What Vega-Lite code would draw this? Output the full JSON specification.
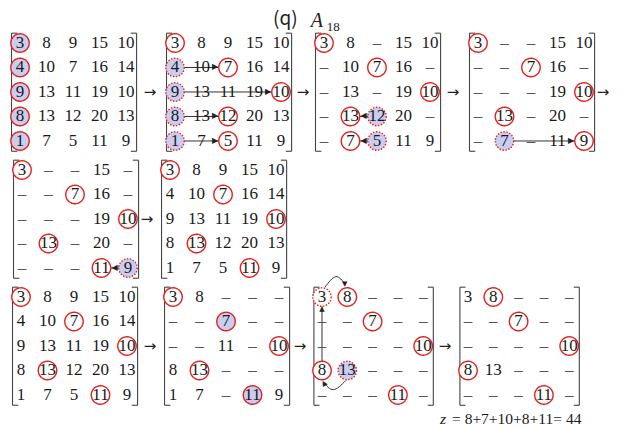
{
"$schema":"https://vega.github.io/schema/vega-lite/v6.json",
"padding":0,
"background":"white",
"bounds":"flush",
"spacing":0,
"columns":4,
"config":{"view":{"stroke":null},"concat":{"spacing":0}},
"datasets":{
"cells":[
{"m":1,"r":1,"c":1,"v":"3","k":"of"},{"m":1,"r":1,"c":2,"v":"8","k":""},{"m":1,"r":1,"c":3,"v":"9","k":""},{"m":1,"r":1,"c":4,"v":"15","k":""},{"m":1,"r":1,"c":5,"v":"10","k":""},
{"m":1,"r":2,"c":1,"v":"4","k":"of"},{"m":1,"r":2,"c":2,"v":"10","k":""},{"m":1,"r":2,"c":3,"v":"7","k":""},{"m":1,"r":2,"c":4,"v":"16","k":""},{"m":1,"r":2,"c":5,"v":"14","k":""},
{"m":1,"r":3,"c":1,"v":"9","k":"of"},{"m":1,"r":3,"c":2,"v":"13","k":""},{"m":1,"r":3,"c":3,"v":"11","k":""},{"m":1,"r":3,"c":4,"v":"19","k":""},{"m":1,"r":3,"c":5,"v":"10","k":""},
{"m":1,"r":4,"c":1,"v":"8","k":"of"},{"m":1,"r":4,"c":2,"v":"13","k":""},{"m":1,"r":4,"c":3,"v":"12","k":""},{"m":1,"r":4,"c":4,"v":"20","k":""},{"m":1,"r":4,"c":5,"v":"13","k":""},
{"m":1,"r":5,"c":1,"v":"1","k":"of"},{"m":1,"r":5,"c":2,"v":"7","k":""},{"m":1,"r":5,"c":3,"v":"5","k":""},{"m":1,"r":5,"c":4,"v":"11","k":""},{"m":1,"r":5,"c":5,"v":"9","k":""},

{"m":2,"r":1,"c":1,"v":"3","k":"o"},{"m":2,"r":1,"c":2,"v":"8","k":""},{"m":2,"r":1,"c":3,"v":"9","k":""},{"m":2,"r":1,"c":4,"v":"15","k":""},{"m":2,"r":1,"c":5,"v":"10","k":""},
{"m":2,"r":2,"c":1,"v":"4","k":"d"},{"m":2,"r":2,"c":2,"v":"10","k":""},{"m":2,"r":2,"c":3,"v":"7","k":"o"},{"m":2,"r":2,"c":4,"v":"16","k":""},{"m":2,"r":2,"c":5,"v":"14","k":""},
{"m":2,"r":3,"c":1,"v":"9","k":"d"},{"m":2,"r":3,"c":2,"v":"13","k":""},{"m":2,"r":3,"c":3,"v":"11","k":""},{"m":2,"r":3,"c":4,"v":"19","k":""},{"m":2,"r":3,"c":5,"v":"10","k":"o"},
{"m":2,"r":4,"c":1,"v":"8","k":"d"},{"m":2,"r":4,"c":2,"v":"13","k":""},{"m":2,"r":4,"c":3,"v":"12","k":"o"},{"m":2,"r":4,"c":4,"v":"20","k":""},{"m":2,"r":4,"c":5,"v":"13","k":""},
{"m":2,"r":5,"c":1,"v":"1","k":"d"},{"m":2,"r":5,"c":2,"v":"7","k":""},{"m":2,"r":5,"c":3,"v":"5","k":"o"},{"m":2,"r":5,"c":4,"v":"11","k":""},{"m":2,"r":5,"c":5,"v":"9","k":""},

{"m":3,"r":1,"c":1,"v":"3","k":"o"},{"m":3,"r":1,"c":2,"v":"8","k":""},{"m":3,"r":1,"c":3,"v":"–","k":""},{"m":3,"r":1,"c":4,"v":"15","k":""},{"m":3,"r":1,"c":5,"v":"10","k":""},
{"m":3,"r":2,"c":1,"v":"–","k":""},{"m":3,"r":2,"c":2,"v":"10","k":""},{"m":3,"r":2,"c":3,"v":"7","k":"o"},{"m":3,"r":2,"c":4,"v":"16","k":""},{"m":3,"r":2,"c":5,"v":"–","k":""},
{"m":3,"r":3,"c":1,"v":"–","k":""},{"m":3,"r":3,"c":2,"v":"13","k":""},{"m":3,"r":3,"c":3,"v":"–","k":""},{"m":3,"r":3,"c":4,"v":"19","k":""},{"m":3,"r":3,"c":5,"v":"10","k":"o"},
{"m":3,"r":4,"c":1,"v":"–","k":""},{"m":3,"r":4,"c":2,"v":"13","k":"o"},{"m":3,"r":4,"c":3,"v":"12","k":"d"},{"m":3,"r":4,"c":4,"v":"20","k":""},{"m":3,"r":4,"c":5,"v":"–","k":""},
{"m":3,"r":5,"c":1,"v":"–","k":""},{"m":3,"r":5,"c":2,"v":"7","k":"o"},{"m":3,"r":5,"c":3,"v":"5","k":"d"},{"m":3,"r":5,"c":4,"v":"11","k":""},{"m":3,"r":5,"c":5,"v":"9","k":""},

{"m":4,"r":1,"c":1,"v":"3","k":"o"},{"m":4,"r":1,"c":2,"v":"–","k":""},{"m":4,"r":1,"c":3,"v":"–","k":""},{"m":4,"r":1,"c":4,"v":"15","k":""},{"m":4,"r":1,"c":5,"v":"10","k":""},
{"m":4,"r":2,"c":1,"v":"–","k":""},{"m":4,"r":2,"c":2,"v":"–","k":""},{"m":4,"r":2,"c":3,"v":"7","k":"o"},{"m":4,"r":2,"c":4,"v":"16","k":""},{"m":4,"r":2,"c":5,"v":"–","k":""},
{"m":4,"r":3,"c":1,"v":"–","k":""},{"m":4,"r":3,"c":2,"v":"–","k":""},{"m":4,"r":3,"c":3,"v":"–","k":""},{"m":4,"r":3,"c":4,"v":"19","k":""},{"m":4,"r":3,"c":5,"v":"10","k":"o"},
{"m":4,"r":4,"c":1,"v":"–","k":""},{"m":4,"r":4,"c":2,"v":"13","k":"o"},{"m":4,"r":4,"c":3,"v":"–","k":""},{"m":4,"r":4,"c":4,"v":"20","k":""},{"m":4,"r":4,"c":5,"v":"–","k":""},
{"m":4,"r":5,"c":1,"v":"–","k":""},{"m":4,"r":5,"c":2,"v":"7","k":"d"},{"m":4,"r":5,"c":3,"v":"–","k":""},{"m":4,"r":5,"c":4,"v":"11","k":""},{"m":4,"r":5,"c":5,"v":"9","k":"o"},

{"m":5,"r":1,"c":1,"v":"3","k":"o"},{"m":5,"r":1,"c":2,"v":"–","k":""},{"m":5,"r":1,"c":3,"v":"–","k":""},{"m":5,"r":1,"c":4,"v":"15","k":""},{"m":5,"r":1,"c":5,"v":"–","k":""},
{"m":5,"r":2,"c":1,"v":"–","k":""},{"m":5,"r":2,"c":2,"v":"–","k":""},{"m":5,"r":2,"c":3,"v":"7","k":"o"},{"m":5,"r":2,"c":4,"v":"16","k":""},{"m":5,"r":2,"c":5,"v":"–","k":""},
{"m":5,"r":3,"c":1,"v":"–","k":""},{"m":5,"r":3,"c":2,"v":"–","k":""},{"m":5,"r":3,"c":3,"v":"–","k":""},{"m":5,"r":3,"c":4,"v":"19","k":""},{"m":5,"r":3,"c":5,"v":"10","k":"o"},
{"m":5,"r":4,"c":1,"v":"–","k":""},{"m":5,"r":4,"c":2,"v":"13","k":"o"},{"m":5,"r":4,"c":3,"v":"–","k":""},{"m":5,"r":4,"c":4,"v":"20","k":""},{"m":5,"r":4,"c":5,"v":"–","k":""},
{"m":5,"r":5,"c":1,"v":"–","k":""},{"m":5,"r":5,"c":2,"v":"–","k":""},{"m":5,"r":5,"c":3,"v":"–","k":""},{"m":5,"r":5,"c":4,"v":"11","k":"o"},{"m":5,"r":5,"c":5,"v":"9","k":"d"},

{"m":6,"r":1,"c":1,"v":"3","k":"o"},{"m":6,"r":1,"c":2,"v":"8","k":""},{"m":6,"r":1,"c":3,"v":"9","k":""},{"m":6,"r":1,"c":4,"v":"15","k":""},{"m":6,"r":1,"c":5,"v":"10","k":""},
{"m":6,"r":2,"c":1,"v":"4","k":""},{"m":6,"r":2,"c":2,"v":"10","k":""},{"m":6,"r":2,"c":3,"v":"7","k":"o"},{"m":6,"r":2,"c":4,"v":"16","k":""},{"m":6,"r":2,"c":5,"v":"14","k":""},
{"m":6,"r":3,"c":1,"v":"9","k":""},{"m":6,"r":3,"c":2,"v":"13","k":""},{"m":6,"r":3,"c":3,"v":"11","k":""},{"m":6,"r":3,"c":4,"v":"19","k":""},{"m":6,"r":3,"c":5,"v":"10","k":"o"},
{"m":6,"r":4,"c":1,"v":"8","k":""},{"m":6,"r":4,"c":2,"v":"13","k":"o"},{"m":6,"r":4,"c":3,"v":"12","k":""},{"m":6,"r":4,"c":4,"v":"20","k":""},{"m":6,"r":4,"c":5,"v":"13","k":""},
{"m":6,"r":5,"c":1,"v":"1","k":""},{"m":6,"r":5,"c":2,"v":"7","k":""},{"m":6,"r":5,"c":3,"v":"5","k":""},{"m":6,"r":5,"c":4,"v":"11","k":"o"},{"m":6,"r":5,"c":5,"v":"9","k":""},

{"m":7,"r":1,"c":1,"v":"3","k":"o"},{"m":7,"r":1,"c":2,"v":"8","k":""},{"m":7,"r":1,"c":3,"v":"9","k":""},{"m":7,"r":1,"c":4,"v":"15","k":""},{"m":7,"r":1,"c":5,"v":"10","k":""},
{"m":7,"r":2,"c":1,"v":"4","k":""},{"m":7,"r":2,"c":2,"v":"10","k":""},{"m":7,"r":2,"c":3,"v":"7","k":"o"},{"m":7,"r":2,"c":4,"v":"16","k":""},{"m":7,"r":2,"c":5,"v":"14","k":""},
{"m":7,"r":3,"c":1,"v":"9","k":""},{"m":7,"r":3,"c":2,"v":"13","k":""},{"m":7,"r":3,"c":3,"v":"11","k":""},{"m":7,"r":3,"c":4,"v":"19","k":""},{"m":7,"r":3,"c":5,"v":"10","k":"o"},
{"m":7,"r":4,"c":1,"v":"8","k":""},{"m":7,"r":4,"c":2,"v":"13","k":"o"},{"m":7,"r":4,"c":3,"v":"12","k":""},{"m":7,"r":4,"c":4,"v":"20","k":""},{"m":7,"r":4,"c":5,"v":"13","k":""},
{"m":7,"r":5,"c":1,"v":"1","k":""},{"m":7,"r":5,"c":2,"v":"7","k":""},{"m":7,"r":5,"c":3,"v":"5","k":""},{"m":7,"r":5,"c":4,"v":"11","k":"o"},{"m":7,"r":5,"c":5,"v":"9","k":""},

{"m":8,"r":1,"c":1,"v":"3","k":"o"},{"m":8,"r":1,"c":2,"v":"8","k":""},{"m":8,"r":1,"c":3,"v":"–","k":""},{"m":8,"r":1,"c":4,"v":"–","k":""},{"m":8,"r":1,"c":5,"v":"–","k":""},
{"m":8,"r":2,"c":1,"v":"–","k":""},{"m":8,"r":2,"c":2,"v":"–","k":""},{"m":8,"r":2,"c":3,"v":"7","k":"of"},{"m":8,"r":2,"c":4,"v":"–","k":""},{"m":8,"r":2,"c":5,"v":"–","k":""},
{"m":8,"r":3,"c":1,"v":"–","k":""},{"m":8,"r":3,"c":2,"v":"–","k":""},{"m":8,"r":3,"c":3,"v":"11","k":""},{"m":8,"r":3,"c":4,"v":"–","k":""},{"m":8,"r":3,"c":5,"v":"10","k":"o"},
{"m":8,"r":4,"c":1,"v":"8","k":""},{"m":8,"r":4,"c":2,"v":"13","k":"o"},{"m":8,"r":4,"c":3,"v":"–","k":""},{"m":8,"r":4,"c":4,"v":"–","k":""},{"m":8,"r":4,"c":5,"v":"–","k":""},
{"m":8,"r":5,"c":1,"v":"1","k":""},{"m":8,"r":5,"c":2,"v":"7","k":""},{"m":8,"r":5,"c":3,"v":"–","k":""},{"m":8,"r":5,"c":4,"v":"11","k":"of"},{"m":8,"r":5,"c":5,"v":"9","k":""},

{"m":9,"r":1,"c":1,"v":"3","k":"dn"},{"m":9,"r":1,"c":2,"v":"8","k":"o"},{"m":9,"r":1,"c":3,"v":"–","k":""},{"m":9,"r":1,"c":4,"v":"–","k":""},{"m":9,"r":1,"c":5,"v":"–","k":""},
{"m":9,"r":2,"c":1,"v":"–","k":""},{"m":9,"r":2,"c":2,"v":"–","k":""},{"m":9,"r":2,"c":3,"v":"7","k":"o"},{"m":9,"r":2,"c":4,"v":"–","k":""},{"m":9,"r":2,"c":5,"v":"–","k":""},
{"m":9,"r":3,"c":1,"v":"–","k":""},{"m":9,"r":3,"c":2,"v":"–","k":""},{"m":9,"r":3,"c":3,"v":"–","k":""},{"m":9,"r":3,"c":4,"v":"–","k":""},{"m":9,"r":3,"c":5,"v":"10","k":"o"},
{"m":9,"r":4,"c":1,"v":"8","k":"o"},{"m":9,"r":4,"c":2,"v":"13","k":"d"},{"m":9,"r":4,"c":3,"v":"–","k":""},{"m":9,"r":4,"c":4,"v":"–","k":""},{"m":9,"r":4,"c":5,"v":"–","k":""},
{"m":9,"r":5,"c":1,"v":"–","k":""},{"m":9,"r":5,"c":2,"v":"–","k":""},{"m":9,"r":5,"c":3,"v":"–","k":""},{"m":9,"r":5,"c":4,"v":"11","k":"o"},{"m":9,"r":5,"c":5,"v":"–","k":""},

{"m":10,"r":1,"c":1,"v":"3","k":""},{"m":10,"r":1,"c":2,"v":"8","k":"o"},{"m":10,"r":1,"c":3,"v":"–","k":""},{"m":10,"r":1,"c":4,"v":"–","k":""},{"m":10,"r":1,"c":5,"v":"–","k":""},
{"m":10,"r":2,"c":1,"v":"–","k":""},{"m":10,"r":2,"c":2,"v":"–","k":""},{"m":10,"r":2,"c":3,"v":"7","k":"o"},{"m":10,"r":2,"c":4,"v":"–","k":""},{"m":10,"r":2,"c":5,"v":"–","k":""},
{"m":10,"r":3,"c":1,"v":"–","k":""},{"m":10,"r":3,"c":2,"v":"–","k":""},{"m":10,"r":3,"c":3,"v":"–","k":""},{"m":10,"r":3,"c":4,"v":"–","k":""},{"m":10,"r":3,"c":5,"v":"10","k":"o"},
{"m":10,"r":4,"c":1,"v":"8","k":"o"},{"m":10,"r":4,"c":2,"v":"13","k":""},{"m":10,"r":4,"c":3,"v":"–","k":""},{"m":10,"r":4,"c":4,"v":"–","k":""},{"m":10,"r":4,"c":5,"v":"–","k":""},
{"m":10,"r":5,"c":1,"v":"–","k":""},{"m":10,"r":5,"c":2,"v":"–","k":""},{"m":10,"r":5,"c":3,"v":"–","k":""},{"m":10,"r":5,"c":4,"v":"11","k":"o"},{"m":10,"r":5,"c":5,"v":"–","k":""}
],
"arrows":[
{"m":2,"r":2,"c":1,"r2":2,"c2":3},{"m":2,"r":3,"c":1,"r2":3,"c2":5},{"m":2,"r":4,"c":1,"r2":4,"c2":3},{"m":2,"r":5,"c":1,"r2":5,"c2":3},
{"m":3,"r":4,"c":3,"r2":4,"c2":2},{"m":3,"r":5,"c":3,"r2":5,"c2":2},
{"m":4,"r":5,"c":2,"r2":5,"c2":5},
{"m":5,"r":5,"c":5,"r2":5,"c2":4},
{"m":9,"r":4,"c":1,"r2":1,"c2":1}
],
"steps":[
{"m":1,"c":5.906,"r":3},{"m":2,"c":5.83,"r":3},{"m":3,"c":5.868,"r":3},{"m":4,"c":5.717,"r":3},
{"m":5,"c":5.717,"r":3},{"m":7,"c":5.868,"r":3},{"m":8,"c":5.79,"r":3},{"m":9,"c":5.86,"r":3}
],
"brackets":[
{"c":0.68,"r":0.6,"c2":0.68,"r2":5.42},{"c":0.68,"r":0.6,"c2":0.9,"r2":0.6},{"c":0.68,"r":5.42,"c2":0.9,"r2":5.42},
{"c":5.4,"r":0.6,"c2":5.4,"r2":5.42},{"c":5.18,"r":0.6,"c2":5.4,"r2":0.6},{"c":5.18,"r":5.42,"c2":5.4,"r2":5.42}
],
"curves":[
{"g":"t","o":1,"c":1.12,"r":0.6},{"g":"t","o":2,"c":1.55,"r":0.17},{"g":"t","o":3,"c":1.92,"r":0.5},
{"g":"b","o":1,"c":1.93,"r":4.42},{"g":"b","o":2,"c":1.45,"r":4.78},{"g":"b","o":3,"c":1.05,"r":4.47}
]
},
"concat":[
{"width":153,"height":157,
 "encoding":{"x":{"field":"c","type":"quantitative","scale":{"domain":[0.245,6.019]},"axis":null},"y":{"field":"r","type":"quantitative","scale":{"domain":[-0.754,5.654],"reverse":true},"axis":null}},
 "layer":[
  {"data":{"name":"brackets"},"mark":{"type":"rule","color":"#444","strokeWidth":1.1},"encoding":{"x2":{"field":"c2"},"y2":{"field":"r2"}}},
  {"data":{"name":"cells"},"transform":[{"filter":"datum.m==1 && datum.k!=''"}],"mark":{"type":"point","shape":"circle","filled":true,"size":340,"stroke":"#e3211c","strokeWidth":1.4,"opacity":1},
   "encoding":{"fill":{"field":"k","type":"nominal","scale":{"domain":["o","of","d","dn"],"range":["#ffffff","#cacdf0","#cacdf0","#ffffff"]},"legend":null},
   "strokeDash":{"field":"k","type":"nominal","scale":{"domain":["o","of","d","dn"],"range":[[1,0],[1,0],[1.5,1.5],[1.5,1.5]]},"legend":null}}},
  {"data":{"name":"cells"},"transform":[{"filter":"datum.m==1"}],"mark":{"type":"text","font":"Liberation Serif","fontSize":17,"baseline":"middle"},
   "encoding":{"text":{"field":"v"},"color":{"condition":{"test":"datum.v=='–'","value":"#555555"},"value":"#1a1a1a"}}},
  {"data":{"name":"steps"},"transform":[{"filter":"datum.m==1"}],"mark":{"type":"text","text":"→","font":"DejaVu Sans","fontSize":15,"baseline":"middle","color":"#222"}}
 ]},
{"width":150,"height":157,
 "encoding":{"x":{"field":"c","type":"quantitative","scale":{"domain":[0.17,5.83]},"axis":null},"y":{"field":"r","type":"quantitative","scale":{"domain":[-0.754,5.654],"reverse":true},"axis":null}},
 "layer":[
  {"data":{"name":"brackets"},"mark":{"type":"rule","color":"#444","strokeWidth":1.1},"encoding":{"x2":{"field":"c2"},"y2":{"field":"r2"}}},
  {"data":{"name":"arrows"},"transform":[{"filter":"datum.m==2"}],"mark":{"type":"rule","color":"#333","strokeWidth":1},"encoding":{"x2":{"field":"c2"},"y2":{"field":"r2"}}},
  {"data":{"name":"cells"},"transform":[{"filter":"datum.m==2 && datum.k!=''"}],"mark":{"type":"point","shape":"circle","filled":true,"size":340,"stroke":"#e3211c","strokeWidth":1.4,"opacity":1},
   "encoding":{"fill":{"field":"k","type":"nominal","scale":{"domain":["o","of","d","dn"],"range":["#ffffff","#cacdf0","#cacdf0","#ffffff"]},"legend":null},
   "strokeDash":{"field":"k","type":"nominal","scale":{"domain":["o","of","d","dn"],"range":[[1,0],[1,0],[1.5,1.5],[1.5,1.5]]},"legend":null}}},
  {"data":{"name":"cells"},"transform":[{"filter":"datum.m==2"}],"mark":{"type":"text","font":"Liberation Serif","fontSize":17,"baseline":"middle"},
   "encoding":{"text":{"field":"v"},"color":{"condition":{"test":"datum.v=='–'","value":"#555555"},"value":"#1a1a1a"}}},
  {"data":{"name":"arrows"},"transform":[{"filter":"datum.m==2"}],"mark":{"type":"text","text":"▶","font":"DejaVu Sans","fontSize":8,"baseline":"middle","dx":-13,"color":"#222"},
   "encoding":{"x":{"field":"c2","type":"quantitative","scale":{"domain":[0.17,5.83]},"axis":null},"y":{"field":"r2","type":"quantitative","scale":{"domain":[-0.754,5.654],"reverse":true},"axis":null}}},
  {"data":{"name":"steps"},"transform":[{"filter":"datum.m==2"}],"mark":{"type":"text","text":"→","font":"DejaVu Sans","fontSize":15,"baseline":"middle","color":"#222"}}
 ]},
{"width":150,"height":157,
 "encoding":{"x":{"field":"c","type":"quantitative","scale":{"domain":[0.208,5.868]},"axis":null},"y":{"field":"r","type":"quantitative","scale":{"domain":[-0.754,5.654],"reverse":true},"axis":null}},
 "layer":[
  {"data":{"name":"brackets"},"mark":{"type":"rule","color":"#444","strokeWidth":1.1},"encoding":{"x2":{"field":"c2"},"y2":{"field":"r2"}}},
  {"data":{"name":"arrows"},"transform":[{"filter":"datum.m==3"}],"mark":{"type":"rule","color":"#333","strokeWidth":1},"encoding":{"x2":{"field":"c2"},"y2":{"field":"r2"}}},
  {"data":{"name":"cells"},"transform":[{"filter":"datum.m==3 && datum.k!=''"}],"mark":{"type":"point","shape":"circle","filled":true,"size":340,"stroke":"#e3211c","strokeWidth":1.4,"opacity":1},
   "encoding":{"fill":{"field":"k","type":"nominal","scale":{"domain":["o","of","d","dn"],"range":["#ffffff","#cacdf0","#cacdf0","#ffffff"]},"legend":null},
   "strokeDash":{"field":"k","type":"nominal","scale":{"domain":["o","of","d","dn"],"range":[[1,0],[1,0],[1.5,1.5],[1.5,1.5]]},"legend":null}}},
  {"data":{"name":"cells"},"transform":[{"filter":"datum.m==3"}],"mark":{"type":"text","font":"Liberation Serif","fontSize":17,"baseline":"middle"},
   "encoding":{"text":{"field":"v"},"color":{"condition":{"test":"datum.v=='–'","value":"#555555"},"value":"#1a1a1a"}}},
  {"data":{"name":"arrows"},"transform":[{"filter":"datum.m==3"}],"mark":{"type":"text","text":"◀","font":"DejaVu Sans","fontSize":8,"baseline":"middle","dx":13,"color":"#222"},
   "encoding":{"x":{"field":"c2","type":"quantitative","scale":{"domain":[0.208,5.868]},"axis":null},"y":{"field":"r2","type":"quantitative","scale":{"domain":[-0.754,5.654],"reverse":true},"axis":null}}},
  {"data":{"name":"steps"},"transform":[{"filter":"datum.m==3"}],"mark":{"type":"text","text":"→","font":"DejaVu Sans","fontSize":15,"baseline":"middle","color":"#222"}},
  {"data":{"values":[{"c":-0.925,"r":0.266}]},"mark":{"type":"text","text":"(q)","font":"Noto Sans CJK KR","fontSize":19,"baseline":"alphabetic","align":"left","color":"#222"}},
  {"data":{"values":[{"c":0.5,"r":0.348}]},"mark":{"type":"text","text":"A","font":"Liberation Serif","fontStyle":"italic","fontSize":20,"baseline":"alphabetic","align":"left","color":"#222"}},
  {"data":{"values":[{"c":1.1,"r":0.511}]},"mark":{"type":"text","text":"18","font":"Liberation Serif","fontSize":13,"baseline":"alphabetic","align":"left","color":"#222"}}
 ]},
{"width":169,"height":157,
 "encoding":{"x":{"field":"c","type":"quantitative","scale":{"domain":[0.057,6.434]},"axis":null},"y":{"field":"r","type":"quantitative","scale":{"domain":[-0.754,5.654],"reverse":true},"axis":null}},
 "layer":[
  {"data":{"name":"brackets"},"mark":{"type":"rule","color":"#444","strokeWidth":1.1},"encoding":{"x2":{"field":"c2"},"y2":{"field":"r2"}}},
  {"data":{"name":"arrows"},"transform":[{"filter":"datum.m==4"}],"mark":{"type":"rule","color":"#333","strokeWidth":1},"encoding":{"x2":{"field":"c2"},"y2":{"field":"r2"}}},
  {"data":{"name":"cells"},"transform":[{"filter":"datum.m==4 && datum.k!=''"}],"mark":{"type":"point","shape":"circle","filled":true,"size":340,"stroke":"#e3211c","strokeWidth":1.4,"opacity":1},
   "encoding":{"fill":{"field":"k","type":"nominal","scale":{"domain":["o","of","d","dn"],"range":["#ffffff","#cacdf0","#cacdf0","#ffffff"]},"legend":null},
   "strokeDash":{"field":"k","type":"nominal","scale":{"domain":["o","of","d","dn"],"range":[[1,0],[1,0],[1.5,1.5],[1.5,1.5]]},"legend":null}}},
  {"data":{"name":"cells"},"transform":[{"filter":"datum.m==4"}],"mark":{"type":"text","font":"Liberation Serif","fontSize":17,"baseline":"middle"},
   "encoding":{"text":{"field":"v"},"color":{"condition":{"test":"datum.v=='–'","value":"#555555"},"value":"#1a1a1a"}}},
  {"data":{"name":"arrows"},"transform":[{"filter":"datum.m==4"}],"mark":{"type":"text","text":"▶","font":"DejaVu Sans","fontSize":8,"baseline":"middle","dx":-13,"color":"#222"},
   "encoding":{"x":{"field":"c2","type":"quantitative","scale":{"domain":[0.057,6.434]},"axis":null},"y":{"field":"r2","type":"quantitative","scale":{"domain":[-0.754,5.654],"reverse":true},"axis":null}}},
  {"data":{"name":"steps"},"transform":[{"filter":"datum.m==4"}],"mark":{"type":"text","text":"→","font":"DejaVu Sans","fontSize":15,"baseline":"middle","color":"#222"}}
 ]},

{"width":153,"height":127,
 "encoding":{"x":{"field":"c","type":"quantitative","scale":{"domain":[0.17,5.944]},"axis":null},"y":{"field":"r","type":"quantitative","scale":{"domain":[0.47,5.654],"reverse":true},"axis":null}},
 "layer":[
  {"data":{"name":"brackets"},"mark":{"type":"rule","color":"#444","strokeWidth":1.1},"encoding":{"x2":{"field":"c2"},"y2":{"field":"r2"}}},
  {"data":{"name":"arrows"},"transform":[{"filter":"datum.m==5"}],"mark":{"type":"rule","color":"#333","strokeWidth":1},"encoding":{"x2":{"field":"c2"},"y2":{"field":"r2"}}},
  {"data":{"name":"cells"},"transform":[{"filter":"datum.m==5 && datum.k!=''"}],"mark":{"type":"point","shape":"circle","filled":true,"size":340,"stroke":"#e3211c","strokeWidth":1.4,"opacity":1},
   "encoding":{"fill":{"field":"k","type":"nominal","scale":{"domain":["o","of","d","dn"],"range":["#ffffff","#cacdf0","#cacdf0","#ffffff"]},"legend":null},
   "strokeDash":{"field":"k","type":"nominal","scale":{"domain":["o","of","d","dn"],"range":[[1,0],[1,0],[1.5,1.5],[1.5,1.5]]},"legend":null}}},
  {"data":{"name":"cells"},"transform":[{"filter":"datum.m==5"}],"mark":{"type":"text","font":"Liberation Serif","fontSize":17,"baseline":"middle"},
   "encoding":{"text":{"field":"v"},"color":{"condition":{"test":"datum.v=='–'","value":"#555555"},"value":"#1a1a1a"}}},
  {"data":{"name":"arrows"},"transform":[{"filter":"datum.m==5"}],"mark":{"type":"text","text":"◀","font":"DejaVu Sans","fontSize":8,"baseline":"middle","dx":13,"color":"#222"},
   "encoding":{"x":{"field":"c2","type":"quantitative","scale":{"domain":[0.17,5.944]},"axis":null},"y":{"field":"r2","type":"quantitative","scale":{"domain":[0.47,5.654],"reverse":true},"axis":null}}},
  {"data":{"name":"steps"},"transform":[{"filter":"datum.m==5"}],"mark":{"type":"text","text":"→","font":"DejaVu Sans","fontSize":15,"baseline":"middle","color":"#222"}}
 ]},
{"width":150,"height":127,
 "encoding":{"x":{"field":"c","type":"quantitative","scale":{"domain":[0.358,6.018]},"axis":null},"y":{"field":"r","type":"quantitative","scale":{"domain":[0.47,5.654],"reverse":true},"axis":null}},
 "layer":[
  {"data":{"name":"brackets"},"mark":{"type":"rule","color":"#444","strokeWidth":1.1},"encoding":{"x2":{"field":"c2"},"y2":{"field":"r2"}}},
  {"data":{"name":"cells"},"transform":[{"filter":"datum.m==6 && datum.k!=''"}],"mark":{"type":"point","shape":"circle","filled":true,"size":340,"stroke":"#e3211c","strokeWidth":1.4,"opacity":1},
   "encoding":{"fill":{"field":"k","type":"nominal","scale":{"domain":["o","of","d","dn"],"range":["#ffffff","#cacdf0","#cacdf0","#ffffff"]},"legend":null},
   "strokeDash":{"field":"k","type":"nominal","scale":{"domain":["o","of","d","dn"],"range":[[1,0],[1,0],[1.5,1.5],[1.5,1.5]]},"legend":null}}},
  {"data":{"name":"cells"},"transform":[{"filter":"datum.m==6"}],"mark":{"type":"text","font":"Liberation Serif","fontSize":17,"baseline":"middle"},
   "encoding":{"text":{"field":"v"},"color":{"condition":{"test":"datum.v=='–'","value":"#555555"},"value":"#1a1a1a"}}}
 ]},
{"width":150,"height":127,"data":{"values":[]},"mark":{"type":"point","opacity":0},"encoding":{}},
{"width":169,"height":127,"data":{"values":[]},"mark":{"type":"point","opacity":0},"encoding":{}},

{"width":153,"height":142,
 "encoding":{"x":{"field":"c","type":"quantitative","scale":{"domain":[0.208,5.982]},"axis":null},"y":{"field":"r","type":"quantitative","scale":{"domain":[0.47,6.266],"reverse":true},"axis":null}},
 "layer":[
  {"data":{"name":"brackets"},"mark":{"type":"rule","color":"#444","strokeWidth":1.1},"encoding":{"x2":{"field":"c2"},"y2":{"field":"r2"}}},
  {"data":{"name":"cells"},"transform":[{"filter":"datum.m==7 && datum.k!=''"}],"mark":{"type":"point","shape":"circle","filled":true,"size":340,"stroke":"#e3211c","strokeWidth":1.4,"opacity":1},
   "encoding":{"fill":{"field":"k","type":"nominal","scale":{"domain":["o","of","d","dn"],"range":["#ffffff","#cacdf0","#cacdf0","#ffffff"]},"legend":null},
   "strokeDash":{"field":"k","type":"nominal","scale":{"domain":["o","of","d","dn"],"range":[[1,0],[1,0],[1.5,1.5],[1.5,1.5]]},"legend":null}}},
  {"data":{"name":"cells"},"transform":[{"filter":"datum.m==7"}],"mark":{"type":"text","font":"Liberation Serif","fontSize":17,"baseline":"middle"},
   "encoding":{"text":{"field":"v"},"color":{"condition":{"test":"datum.v=='–'","value":"#555555"},"value":"#1a1a1a"}}},
  {"data":{"name":"steps"},"transform":[{"filter":"datum.m==7"}],"mark":{"type":"text","text":"→","font":"DejaVu Sans","fontSize":15,"baseline":"middle","color":"#222"}}
 ]},
{"width":150,"height":142,
 "encoding":{"x":{"field":"c","type":"quantitative","scale":{"domain":[0.245,5.905]},"axis":null},"y":{"field":"r","type":"quantitative","scale":{"domain":[0.47,6.266],"reverse":true},"axis":null}},
 "layer":[
  {"data":{"name":"brackets"},"mark":{"type":"rule","color":"#444","strokeWidth":1.1},"encoding":{"x2":{"field":"c2"},"y2":{"field":"r2"}}},
  {"data":{"name":"cells"},"transform":[{"filter":"datum.m==8 && datum.k!=''"}],"mark":{"type":"point","shape":"circle","filled":true,"size":340,"stroke":"#e3211c","strokeWidth":1.4,"opacity":1},
   "encoding":{"fill":{"field":"k","type":"nominal","scale":{"domain":["o","of","d","dn"],"range":["#ffffff","#cacdf0","#cacdf0","#ffffff"]},"legend":null},
   "strokeDash":{"field":"k","type":"nominal","scale":{"domain":["o","of","d","dn"],"range":[[1,0],[1,0],[1.5,1.5],[1.5,1.5]]},"legend":null}}},
  {"data":{"name":"cells"},"transform":[{"filter":"datum.m==8"}],"mark":{"type":"text","font":"Liberation Serif","fontSize":17,"baseline":"middle"},
   "encoding":{"text":{"field":"v"},"color":{"condition":{"test":"datum.v=='–'","value":"#555555"},"value":"#1a1a1a"}}},
  {"data":{"name":"steps"},"transform":[{"filter":"datum.m==8"}],"mark":{"type":"text","text":"→","font":"DejaVu Sans","fontSize":15,"baseline":"middle","color":"#222"}}
 ]},
{"width":150,"height":142,
 "encoding":{"x":{"field":"c","type":"quantitative","scale":{"domain":[0.249,6.178]},"axis":null},"y":{"field":"r","type":"quantitative","scale":{"domain":[0.47,6.266],"reverse":true},"axis":null}},
 "layer":[
  {"data":{"name":"brackets"},"mark":{"type":"rule","color":"#444","strokeWidth":1.1},"encoding":{"x2":{"field":"c2"},"y2":{"field":"r2"}}},
  {"data":{"name":"arrows"},"transform":[{"filter":"datum.m==9"}],"mark":{"type":"rule","color":"#333","strokeWidth":1},"encoding":{"x2":{"field":"c2"},"y2":{"field":"r2"}}},
  {"data":{"name":"curves"},"mark":{"type":"line","color":"#333","strokeWidth":1,"interpolate":"natural"},"encoding":{"detail":{"field":"g"},"order":{"field":"o"}}},
  {"data":{"name":"cells"},"transform":[{"filter":"datum.m==9 && datum.k!=''"}],"mark":{"type":"point","shape":"circle","filled":true,"size":340,"stroke":"#e3211c","strokeWidth":1.4,"opacity":1},
   "encoding":{"fill":{"field":"k","type":"nominal","scale":{"domain":["o","of","d","dn"],"range":["#ffffff","#cacdf0","#cacdf0","#ffffff"]},"legend":null},
   "strokeDash":{"field":"k","type":"nominal","scale":{"domain":["o","of","d","dn"],"range":[[1,0],[1,0],[1.5,1.5],[1.5,1.5]]},"legend":null}}},
  {"data":{"name":"cells"},"transform":[{"filter":"datum.m==9"}],"mark":{"type":"text","font":"Liberation Serif","fontSize":17,"baseline":"middle"},
   "encoding":{"text":{"field":"v"},"color":{"condition":{"test":"datum.v=='–'","value":"#555555"},"value":"#1a1a1a"}}},
  {"data":{"name":"arrows"},"transform":[{"filter":"datum.m==9"}],"mark":{"type":"text","text":"▲","font":"DejaVu Sans","fontSize":7,"baseline":"middle","dy":12,"color":"#222"},
   "encoding":{"x":{"field":"c2","type":"quantitative","scale":{"domain":[0.249,6.178]},"axis":null},"y":{"field":"r2","type":"quantitative","scale":{"domain":[0.47,6.266],"reverse":true},"axis":null}}},
  {"data":{"values":[{"c":1.9,"r":0.47}]},"mark":{"type":"text","text":"▼","font":"DejaVu Sans","fontSize":7,"baseline":"middle","color":"#222"}},
  {"data":{"values":[{"c":1.07,"r":4.52}]},"mark":{"type":"text","text":"▲","font":"DejaVu Sans","fontSize":7,"baseline":"middle","color":"#222","angle":-30}},
  {"data":{"name":"steps"},"transform":[{"filter":"datum.m==9"}],"mark":{"type":"text","text":"→","font":"DejaVu Sans","fontSize":15,"baseline":"middle","color":"#222"}}
 ]},
{"width":169,"height":142,
 "encoding":{"x":{"field":"c","type":"quantitative","scale":{"domain":[0.407,7.087]},"axis":null},"y":{"field":"r","type":"quantitative","scale":{"domain":[0.47,6.266],"reverse":true},"axis":null}},
 "layer":[
  {"data":{"name":"brackets"},"mark":{"type":"rule","color":"#444","strokeWidth":1.1},"encoding":{"x2":{"field":"c2"},"y2":{"field":"r2"}}},
  {"data":{"name":"cells"},"transform":[{"filter":"datum.m==10 && datum.k!=''"}],"mark":{"type":"point","shape":"circle","filled":true,"size":340,"stroke":"#e3211c","strokeWidth":1.4,"opacity":1},
   "encoding":{"fill":{"field":"k","type":"nominal","scale":{"domain":["o","of","d","dn"],"range":["#ffffff","#cacdf0","#cacdf0","#ffffff"]},"legend":null},
   "strokeDash":{"field":"k","type":"nominal","scale":{"domain":["o","of","d","dn"],"range":[[1,0],[1,0],[1.5,1.5],[1.5,1.5]]},"legend":null}}},
  {"data":{"name":"cells"},"transform":[{"filter":"datum.m==10"}],"mark":{"type":"text","font":"Liberation Serif","fontSize":17,"baseline":"middle"},
   "encoding":{"text":{"field":"v"},"color":{"condition":{"test":"datum.v=='–'","value":"#555555"},"value":"#1a1a1a"}}},
  {"data":{"values":[{"c":-0.107,"r":5.97}]},"mark":{"type":"text","text":"z","font":"Liberation Serif","fontStyle":"italic","fontSize":15.5,"baseline":"middle","align":"left","color":"#1a1a1a"}},
  {"data":{"values":[{"c":0.368,"r":5.97}]},"mark":{"type":"text","text":"= 8+7+10+8+11= 44","font":"Liberation Serif","fontSize":15.5,"baseline":"middle","align":"left","color":"#1a1a1a"}}
 ]}
]
}
